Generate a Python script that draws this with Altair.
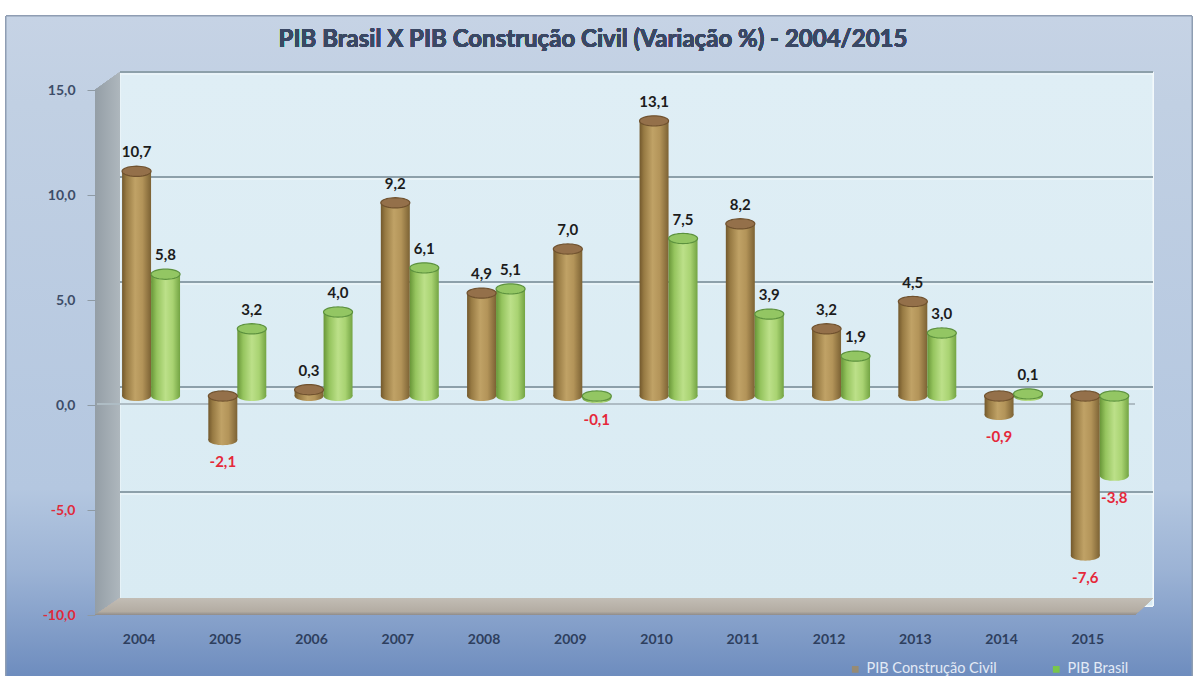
import math
import altair as alt
import pandas as pd

# ---------------- data ----------------
anos = [2004, 2005, 2006, 2007, 2008, 2009, 2010, 2011, 2012, 2013, 2014, 2015]
pib_construcao = [10.7, -2.1, 0.3, 9.2, 4.9, 7.0, 13.1, 8.2, 3.2, 4.5, -0.9, -7.6]
pib_brasil = [5.8, 3.2, 4.0, 6.1, 5.1, -0.1, 7.5, 3.9, 1.9, 3.0, 0.1, -3.8]
series = ["PIB Construção Civil", "PIB Brasil"]
eixo_y = [-10, -5, 0, 5, 10, 15]
titulo = "PIB Brasil X PIB Construção Civil (Variação %) - 2004/2015"

rows = []
for i, ano in enumerate(anos):
    rows.append(dict(ano=str(ano), idx=i, serie=series[0], lado=-1, valor=pib_construcao[i]))
    rows.append(dict(ano=str(ano), idx=i, serie=series[1], lado=1, valor=pib_brasil[i]))
df = pd.DataFrame(rows)
df["rotulo"] = df["valor"].map(lambda v: f"{v:.1f}".replace(".", ","))

df_anos = pd.DataFrame({"ano": [str(a) for a in anos], "idx": list(range(len(anos)))})
df_grade = pd.DataFrame({"v": eixo_y})

FONT = "Lato"

# ---------------- scales / axes ----------------
xs = alt.Scale(domain=[-0.65, 11.64], nice=False, zero=False)
ys = alt.Scale(domain=[-10, 15], nice=False, zero=False)
yaxis = alt.Axis(
    values=eixo_y,
    labelExpr="(datum.value < 0 ? '-' : '') + replace(format(abs(datum.value), '.1f'), '.', ',')",
    labelColor={"condition": {"test": "datum.value < 0", "value": "#e02a3a"}, "value": "#3d4d68"},
    labelFont=FONT, labelFontSize=14, labelFontWeight="bold",
    labelPadding=12, tickSize=8, tickColor="#8e9aa4", tickOffset=9,
    domain=False, grid=False, title=None, zindex=2,
)


def X(f):
    return alt.X(f, type="quantitative", scale=xs, axis=None)


def Y(f):
    return alt.Y(f, type="quantitative", scale=ys, axis=yaxis)


def lin(stops, vertical=False):
    return alt.Gradient(
        gradient="linear",
        stops=[alt.GradientStop(color=c, offset=o) for o, c in stops],
        x1=0, y1=0, x2=0 if vertical else 1, y2=1 if vertical else 0,
    )


def ellipse_path(ry=0.35, n=40):
    pts = []
    for k in range(n):
        a = 2 * math.pi * k / n
        pts.append(f"{math.cos(a):.4f},{ry * math.sin(a):.4f}")
    return "M" + " L".join(pts) + " Z"


ELL = ellipse_path()
BAR_PX = 29

base = alt.Chart(df).transform_calculate(
    x0="datum.idx + (datum.lado < 0 ? -0.336 : 0)",
    x1="datum.idx + (datum.lado < 0 ? 0 : 0.336)",
    xc="datum.idx + datum.lado * 0.168",
    topo="max(datum.valor, 0)",
    fundo="min(datum.valor, 0)",
)

# ---------------- background / frame ----------------
bg = alt.Chart(df_anos).mark_rect(
    fill=lin([(0, "#c6d3e5"), (0.13, "#c1d0e3"), (0.70, "#b4c7e0"), (0.82, "#9cb3d5"), (1, "#6787bb")], vertical=True),
    stroke="#8e9db2", strokeWidth=1,
).encode(x=alt.value(-89), x2=alt.value(1097), y=alt.value(-65), y2=alt.value(610))

title_t = alt.Chart(df_anos).mark_text(
    text=titulo, font=FONT, fontSize=24, fontWeight="bold", color="#3a4864", align="center", baseline="middle"
).encode(x=alt.value(498), y=alt.value(-41))

# back wall (between 15 and -10 on the back plane)
wall = alt.Chart(df_anos).mark_rect(
    fill=lin([(0, "#dfeef5"), (1, "#d9ebf3")], vertical=True), stroke="#f4fafc", strokeWidth=1, yOffset=-9
).encode(x=alt.value(25), x2=alt.value(1058), y=alt.datum(15, type="quantitative", scale=ys, axis=yaxis),
         y2=alt.datum(-10))

left_path = "M0,0 L25,-18 L25,507 L0,525 Z"
left_wall = alt.Chart(df_anos).mark_point(
    shape=left_path, size=4, filled=True, opacity=1,
    fill=lin([(0, "#949ea6"), (1, "#aeb7bd")]), strokeWidth=0,
).encode(x=alt.value(0), y=alt.value(9))

floor_path = "M0,0 L25,-17 L1058,-17 L1040,0 Z"
floor = alt.Chart(df_anos).mark_point(
    shape=floor_path, size=4, filled=True, opacity=1,
    fill=lin([(0, "#c2bdb5"), (0.8, "#b3aca2"), (1, "#8f8c8a")], vertical=True), strokeWidth=0,
).encode(x=alt.value(0), y=alt.value(534))

grid = alt.Chart(df_grade).transform_filter("datum.v > -10").mark_rule(
    color="#8da0aa", strokeWidth=2, yOffset=-9
).encode(x=alt.value(25), x2=alt.value(1058), y=Y("v"))

grid_hi = alt.Chart(df_grade).transform_filter("datum.v > -10").mark_rule(
    color="#f3f9fb", strokeWidth=1, yOffset=-7
).encode(x=alt.value(25), x2=alt.value(1058), y=Y("v"))

zero_front = alt.Chart(df_grade).transform_filter("datum.v == 0").mark_rule(
    color="#aebcc4", strokeWidth=2, yOffset=8
).encode(x=alt.value(2), x2=alt.value(1040), y=Y("v"))

# ---------------- cylinders ----------------
brown_body = lin([(0, "#72582c"), (0.15, "#977a43"), (0.45, "#c0a266"), (0.7, "#b39459"), (1, "#7c6234")])
green_body = lin([(0, "#689638"), (0.2, "#95c45e"), (0.5, "#bce089"), (0.75, "#a9d372"), (1, "#73a443")])
caps = {series[0]: ("#94704a", "#70522f"), series[1]: ("#93c663", "#5c913e")}
bodies = {series[0]: brown_body, series[1]: green_body}

layers_bars = []
for s in series:
    sub = base.transform_filter(alt.datum.serie == s)
    layers_bars.append(
        sub.mark_rect(fill=bodies[s]).encode(x=X("x0:Q"), x2="x1:Q", y=Y("topo:Q"), y2="fundo:Q")
    )
    layers_bars.append(
        sub.mark_point(shape=ELL, size=BAR_PX ** 2, filled=True, opacity=1, fill=bodies[s], strokeWidth=0)
        .encode(x=X("xc:Q"), y=Y("fundo:Q"))
    )
for s in series:
    sub = base.transform_filter(alt.datum.serie == s)
    layers_bars.append(
        sub.mark_point(shape=ELL, size=BAR_PX ** 2, filled=True, opacity=1,
                       fill=caps[s][0], stroke=caps[s][1], strokeWidth=1.2)
        .encode(x=X("xc:Q"), y=Y("topo:Q"))
    )

# ---------------- labels ----------------
lab_pos = base.transform_filter("datum.valor >= 0").mark_text(
    font=FONT, fontSize=15, fontWeight="bold", color="#1c1c1c", baseline="middle", dy=-19
).encode(x=X("xc:Q"), y=Y("topo:Q"), text="rotulo:N")

lab_neg = base.transform_filter("datum.valor < 0").mark_text(
    font=FONT, fontSize=15, fontWeight="bold", color="#e5283a", baseline="middle", dy=22
).encode(x=X("xc:Q"), y=Y("fundo:Q"), text="rotulo:N")

year_lab = alt.Chart(df_anos).mark_text(
    font=FONT, fontSize=14, fontWeight="bold", color="#2e3f5e", baseline="middle", dx=-12
).encode(x=X("idx:Q"), y=alt.value(559), text="ano:N")

legend_layer = base.mark_square(opacity=0, filled=True, size=1).encode(
    x=X("xc:Q"), y=Y("valor:Q"),
    color=alt.Color(
        "serie:N",
        scale=alt.Scale(domain=series, range=["#978b74", "#79c64a"]),
        legend=alt.Legend(
            orient="none", legendX=753, legendY=581, direction="horizontal", title=None,
            symbolType="square", symbolSize=45, symbolOpacity=1, symbolStrokeWidth=0,
            labelColor="#e3eaf5", labelFont=FONT, labelFontSize=14.5, columnPadding=52,
        ),
    ),
)

chart = alt.layer(
    bg, title_t, wall, left_wall, floor, grid_hi, grid, zero_front,
    *layers_bars, lab_pos, lab_neg, year_lab, legend_layer,
).properties(
    width=1060, height=525,
    padding={"left": 95, "top": 81, "right": 45, "bottom": 70},
    autosize=alt.AutoSizeParams(type="none"),
    background="white",
).configure_view(strokeWidth=0)

chart.save("out.html", embed_options={"renderer": "svg", "actions": False})
